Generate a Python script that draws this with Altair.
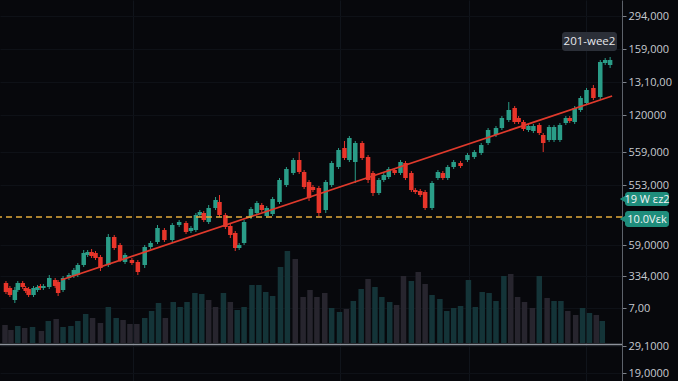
import altair as alt
import pandas as pd

# ---------------- data ----------------
days = [1, 5, 10, 13, 18, 21, 24, 29, 33, 36, 39, 45, 51, 54, 59, 65, 70, 74, 80, 84,
        88, 92, 97, 105, 111, 117, 122, 129, 135, 142, 148, 155, 162, 170, 177, 184, 189, 194, 198, 202,
        207, 214, 218, 224, 229, 234, 238, 243, 250, 256, 261, 266, 272, 279, 286, 293, 299, 304, 309, 313,
        319, 326, 332, 339, 345, 350, 356, 363, 369, 374, 380, 385, 390, 396, 402, 407, 413, 417, 422, 427,
        434, 440, 445, 450, 456, 463, 470, 477, 484, 491, 499, 505, 512, 518, 522, 527, 532, 537, 543, 547,
        553, 558, 564, 570, 574, 579, 585, 591, 598, 605, 610, 615]
opens = [98, 93, 81, 91, 98, 93, 92, 86, 91, 95, 93, 94, 101, 99, 91, 103, 105, 106, 116, 126,
         129, 128, 124, 116, 144, 136, 119, 121, 119, 116, 134, 139, 151, 141, 156, 158, 150, 151, 166, 168,
         159, 173, 179, 166, 155, 148, 133, 138, 164, 168, 176, 165, 167, 179, 196, 208, 221, 209, 199, 194,
         193, 171, 196, 214, 233, 221, 219, 238, 224, 208, 188, 201, 204, 211, 208, 218, 208, 191, 190, 189,
         173, 203, 208, 203, 214, 218, 221, 224, 228, 238, 246, 253, 261, 273, 263, 259, 251, 250, 256, 246,
         241, 241, 241, 258, 263, 259, 271, 278, 293, 284, 318, 316]
highs = [100, 95, 94, 100, 100, 95, 94, 95, 96, 97, 97, 106, 103, 101, 105, 108, 113, 118, 131, 131,
         132, 130, 126, 147, 146, 138, 128, 123, 121, 136, 140, 156, 153, 158, 161, 160, 155, 168, 171, 170,
         176, 184, 186, 168, 157, 150, 138, 161, 174, 180, 178, 175, 184, 203, 214, 223, 229, 211, 201, 196,
         195, 201, 220, 233, 240, 245, 240, 240, 226, 210, 203, 208, 214, 213, 221, 220, 210, 193, 192, 191,
         200, 211, 210, 216, 221, 220, 228, 231, 238, 253, 255, 265, 279, 275, 265, 261, 257, 257, 258, 248,
         256, 256, 258, 265, 265, 275, 285, 293, 296, 321, 323, 324]
lows = [87, 84, 78, 89, 92, 88, 84, 84, 89, 91, 91, 92, 93, 85, 89, 101, 103, 104, 114, 124,
        123, 121, 110, 114, 131, 119, 117, 116, 106, 113, 132, 137, 139, 139, 154, 147, 148, 149, 164, 159,
        157, 171, 164, 152, 143, 130, 131, 136, 162, 166, 169, 163, 165, 177, 194, 206, 207, 192, 180, 189,
        165, 168, 194, 212, 221, 219, 198, 221, 198, 185, 186, 199, 202, 206, 206, 201, 189, 187, 184, 171,
        171, 201, 201, 201, 212, 213, 219, 222, 226, 236, 244, 251, 259, 257, 257, 250, 249, 248, 246, 229,
        239, 239, 239, 256, 258, 257, 269, 276, 281, 282, 316, 313]
closes = [89, 86, 91, 98, 94, 90, 86, 93, 94, 93, 95, 103, 95, 88, 103, 106, 111, 116, 128, 129,
          125, 123, 113, 144, 133, 121, 126, 118, 109, 134, 138, 153, 141, 156, 159, 149, 153, 166, 169, 161,
          173, 181, 166, 154, 146, 133, 136, 159, 172, 178, 171, 173, 182, 201, 212, 221, 209, 194, 183, 191,
          168, 199, 218, 231, 223, 243, 238, 223, 201, 188, 201, 206, 212, 208, 219, 203, 191, 189, 186, 173,
          198, 209, 203, 214, 219, 215, 226, 229, 236, 251, 253, 263, 271, 259, 259, 252, 255, 255, 248, 238,
          254, 254, 256, 263, 260, 273, 283, 291, 283, 319, 321, 321]

vol_days = [0, 6, 13, 20, 28, 37, 44, 52, 59, 67, 74, 82, 89, 97, 105, 113, 120, 127, 134, 142,
            149, 156, 163, 171, 178, 185, 193, 200, 207, 214, 222, 229, 236, 243, 251, 258, 265, 272, 280, 287,
            295, 303, 310, 317, 325, 332, 340, 347, 354, 362, 369, 376, 383, 391, 398, 405, 413, 420, 427, 434,
            442, 449, 456, 463, 471, 478, 485, 492, 499, 507, 514, 521, 528, 536, 543, 551, 558, 565, 572, 580,
            587, 594, 601, 607]
volumes = [18000, 13000, 17000, 15000, 16000, 12000, 22000, 24000, 16000, 17000,
           22000, 29000, 25000, 20000, 36000, 25000, 23000, 19000, 19000, 25000,
           32000, 40000, 25000, 41000, 36000, 41000, 50000, 49000, 43000, 36000,
           50000, 41000, 33000, 36000, 58000, 58000, 51000, 47000, 76000, 92000,
           84000, 46000, 53000, 46000, 50000, 35000, 31000, 34000, 42000, 54000,
           64000, 56000, 46000, 41000, 38000, 67000, 62000, 71000, 59000, 48000,
           44000, 32000, 35000, 37000, 63000, 36000, 51000, 50000, 42000, 67000,
           69000, 46000, 41000, 35000, 67000, 45000, 42000, 42000, 32000, 28000,
           35000, 30000, 28000, 22000]
vol_dir = ["d", "d", "u", "d", "u", "d", "u", "d", "u", "u",
           "u", "u", "d", "d", "u", "u", "d", "d", "d", "u",
           "u", "u", "d", "u", "u", "u", "u", "u", "d", "d",
           "u", "d", "u", "u", "u", "u", "u", "u", "u", "u",
           "d", "d", "d", "d", "d", "u", "u", "d", "u", "u",
           "d", "u", "u", "u", "d", "d", "u", "d", "d", "u",
           "u", "u", "u", "u", "u", "u", "u", "u", "u", "u",
           "d", "d", "d", "d", "u", "d", "u", "u", "d", "d",
           "u", "u", "d", "u"]

trend_days = [57, 617]
trend_prices = [101, 285]
support_level = [164]

tick_values = [365, 332, 299, 266, 229, 196, 136, 105, 73, 35, 8]
tick_labels = ["294,000", "159,000", "13,10,00", "120000", "559,000", "553,000",
               "59,0000", "334,000", "7,00", "29,1000", "19,0000"]
grid_days = [130, 340, 472, 590]

badge_top = "201-wee2"
badge_right = ["19 W εz2", "10.0Vεk"]

# ---------------- build ----------------
TEAL = "#2a9d88"
RED = "#e8352a"
FONT = "Open Sans"

candles = pd.DataFrame(dict(day=days, open=opens, high=highs, low=lows, close=closes))
candles["dir"] = ["up" if c >= o else "down" for o, c in zip(opens, closes)]
vol = pd.DataFrame(dict(day=vol_days, volume=volumes, vdir=vol_dir))
trend = pd.DataFrame(dict(day=trend_days, price=trend_prices))
level = pd.DataFrame(dict(price=support_level))
one = pd.DataFrame({"a": [0]})

xscale = alt.Scale(domain=[0, 622], nice=False, zero=False)
yscale = alt.Scale(domain=[0, 381], nice=False, zero=False)
xaxis = alt.Axis(values=grid_days, grid=True, gridColor="#10141b", gridWidth=1,
                 labels=False, ticks=False, domain=False, title=None)

label_expr = "''"
for v, l in reversed(list(zip(tick_values, tick_labels))):
    label_expr = f"datum.value == {v} ? '{l}' : ({label_expr})"

yaxis = alt.Axis(orient="right", values=tick_values, labelExpr=label_expr, title=None,
                 domainColor="#5d626b", domainWidth=1, tickColor="#7d828b", tickSize=4,
                 labelColor="#c6cad1", labelFont=FONT, labelFontSize=11, labelPadding=2,
                 grid=True, gridColor="#0e1117", labelBaseline="middle")

candle_color = alt.Color("dir:N", scale=alt.Scale(domain=["up", "down"], range=[TEAL, RED]), legend=None)

volume = alt.Chart(vol).mark_bar(size=5.5).encode(
    x=alt.X("day:Q", scale=xscale, axis=xaxis),
    y=alt.Y("volume:Q", scale=alt.Scale(domain=[-38000, 343000], nice=False, zero=False), axis=None),
    fill=alt.Fill("vdir:N", scale=alt.Scale(domain=["u", "d"], range=["#143438", "#27252e"]), legend=None),
)

baseline = alt.Chart(one).mark_rule(color="#8d929b", strokeWidth=1.5).encode(
    x=alt.value(0), x2=alt.value(622), y=alt.value(344.5))

wicks = alt.Chart(candles).mark_rule(strokeWidth=1).encode(
    x=alt.X("day:Q", scale=xscale, axis=xaxis),
    y=alt.Y("low:Q", scale=yscale, axis=None),
    y2="high:Q",
    color=candle_color,
)

bodies = alt.Chart(candles).mark_bar(size=4.5).encode(
    x=alt.X("day:Q", scale=xscale, axis=xaxis),
    y=alt.Y("open:Q", scale=yscale, axis=yaxis),
    y2="close:Q",
    color=candle_color,
)

trendline = alt.Chart(trend).mark_line(color="#e03a2c", strokeWidth=1.8).encode(
    x=alt.X("day:Q", scale=xscale, axis=xaxis),
    y=alt.Y("price:Q", scale=yscale, axis=None),
)

dash = alt.Chart(level).mark_rule(color="#e2a93a", strokeWidth=1.5, strokeDash=[6, 4]).encode(
    y=alt.Y("price:Q", scale=yscale, axis=None),
)

top_rect = alt.Chart(one).mark_rect(color="#2b2f38", cornerRadius=3).encode(
    x=alt.value(562), x2=alt.value(617), y=alt.value(32), y2=alt.value(51))
top_text = alt.Chart(one).mark_text(
    text=badge_top, color="#e6e8ec", font=FONT, fontSize=11.5, baseline="middle", align="center").encode(
    x=alt.value(589.5), y=alt.value(41.5))

badges = []
for txt, (y0, y1) in zip(badge_right, [(192, 206), (211, 227)]):
    badges.append(alt.Chart(one).mark_rect(color="#1f8d7c", cornerRadius=3).encode(
        x=alt.value(625), x2=alt.value(669), y=alt.value(y0), y2=alt.value(y1)))
    badges.append(alt.Chart(one).mark_point(shape="triangle-left", filled=True, color="#1f8d7c",
                                            size=40, opacity=1).encode(
        x=alt.value(622.5), y=alt.value((y0 + y1) / 2)))
    badges.append(alt.Chart(one).mark_text(
        text=txt, color="#f2f4f5", font=FONT, fontSize=11, baseline="middle", align="center").encode(
        x=alt.value(647), y=alt.value((y0 + y1) / 2 + 0.5)))

chart = alt.layer(volume, baseline, wicks, bodies, trendline, dash, top_rect, top_text, *badges).resolve_scale(
    y="independent", color="independent", fill="independent"
).properties(
    width=622, height=381,
    padding={"left": 0, "top": 0, "right": 56, "bottom": 0},
    autosize=alt.AutoSizeParams(type="none"),
    background="#07080c",
).configure_view(stroke=None)

chart.save("out.html", embed_options={"renderer": "svg", "actions": False})
